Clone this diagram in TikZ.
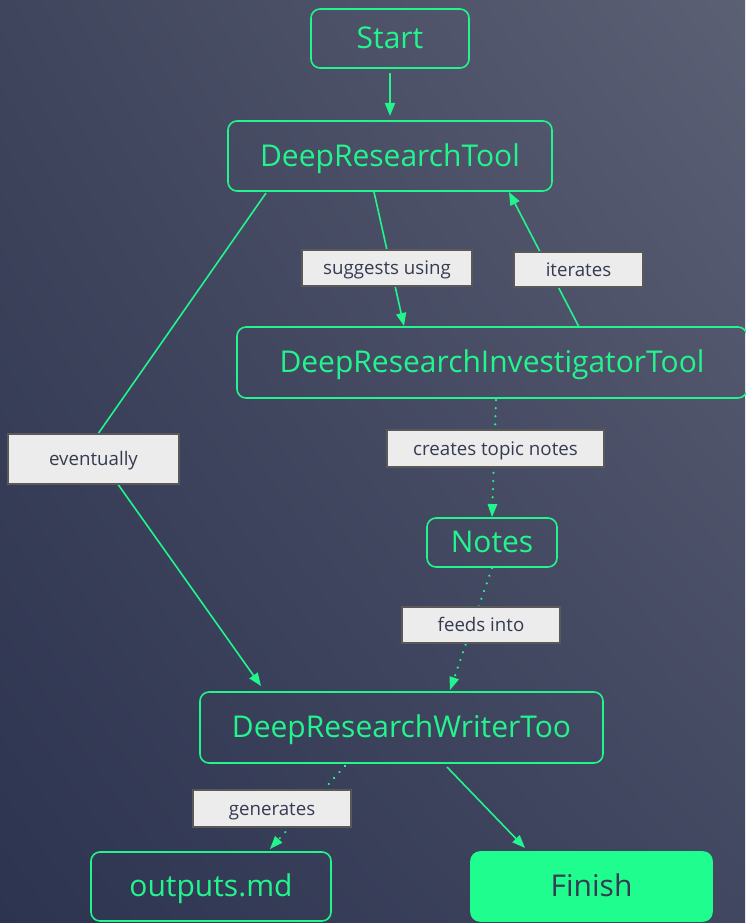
\documentclass[tikz,border=0pt]{standalone}
\usepackage{fontspec}
\setmainfont{Open Sans}
\usetikzlibrary{arrows.meta,shadings}
\definecolor{grn}{HTML}{22F58D}
\definecolor{grnfill}{HTML}{20FD8F}
\definecolor{lblfill}{HTML}{ECECEC}
\definecolor{lbldraw}{HTML}{595959}
\definecolor{lbltext}{HTML}{363B52}
\definecolor{bgll}{HTML}{2D3450}
\definecolor{bgul}{HTML}{3F455C}
\definecolor{bgur}{HTML}{5C6075}
\definecolor{bglr}{HTML}{414760}
\tikzset{
  box/.style={draw=grn, line width=1.6pt, rounded corners=9pt, text=grn, font=\fontsize{30}{33}\selectfont, inner sep=0pt, text height=26pt, text depth=6pt},
  finbox/.style={fill=grnfill, draw=grnfill, line width=1.6pt, rounded corners=9pt, text=lbltext, font=\fontsize{30}{33}\selectfont, inner sep=0pt, text height=26pt, text depth=6pt},
  lbl/.style={fill=lblfill, draw=lbldraw, line width=1.4pt, text=lbltext, font=\fontsize{18.7}{21}\selectfont, inner sep=0pt, text height=17pt, text depth=4pt},
  conn/.style={draw=grn, line width=1.6pt, -{Triangle[length=13pt,width=10pt]}},
  dconn/.style={draw=grn, line width=2.4pt, line cap=round, dash pattern=on 0.1pt off 8pt, -{Triangle[length=13pt,width=10pt,line width=0pt]}},
}
\begin{document}
\begin{tikzpicture}[x=1pt,y=-1pt]
\useasboundingbox (0,0) rectangle (745,923);
\shade[lower left=bgll, upper left=bgul, upper right=bgur, lower right=bglr] (0,923) rectangle (745,0);

\node[box, minimum width=158pt, minimum height=59pt] (start) at (390,38.5) {Start};
\node[box, minimum width=324pt, minimum height=70pt] (drt) at (390,156) {DeepResearchTool};
\node[box, minimum width=510pt, minimum height=71pt] (drit) at (492,362.5) {DeepResearchInvestigatorTool};
\node[box, minimum width=130pt, minimum height=49pt] (notes) at (492,542.5) {Notes};
\node[box, minimum width=403pt, minimum height=71pt] (writer) at (401.5,727.5) {DeepResearchWriterToo};
\node[box, minimum width=240pt, minimum height=69pt] (out) at (211,886.5) {outputs.md};
\node[finbox, minimum width=241pt, minimum height=69pt] (fin) at (591.5,886.5) {Finish};

% edges
\coordinate (s1) at (390,73);
\coordinate (s2) at (390,116);
\draw[conn] (s1) -- (s2);
\coordinate (e1) at (374,192);
\coordinate (e2) at (404,326);
\draw[conn] (e1) -- (e2);
\coordinate (i1) at (579,327);
\coordinate (i2) at (509,192);
\draw[conn] (i1) -- (i2);
\coordinate (v1) at (266,193);
\coordinate (vA) at (84,454);
\coordinate (vB) at (105,466);
\coordinate (v2) at (261,686);
\draw[conn] (v1) -- (vA) -- (vB) -- (v2);
\coordinate (c1) at (496,400);
\coordinate (c2) at (492,517);
\draw[dconn] (c1) -- (c2);
\coordinate (f1) at (492,568);
\coordinate (f2) at (450,690);
\draw[dconn] (f1) -- (f2);
\coordinate (g1) at (345,766);
\coordinate (g2) at (270,849);
\draw[dconn] (g1) -- (g2);
\coordinate (h1) at (447,767);
\coordinate (h2) at (525,848);
\draw[conn] (h1) -- (h2);

% labels
\node[lbl, minimum width=170pt, minimum height=36pt] (l1) at (387,268) {suggests using};
\node[lbl, minimum width=129pt, minimum height=35pt] (l2) at (578.5,269.5) {iterates};
\node[lbl, minimum width=171pt, minimum height=50pt] (l3) at (93.5,459) {eventually};
\node[lbl, minimum width=217pt, minimum height=37pt] (l4) at (495.5,448.5) {creates topic notes};
\node[lbl, minimum width=158pt, minimum height=36pt] (l5) at (481,625) {feeds into};
\node[lbl, minimum width=158pt, minimum height=37pt] (l6) at (272,808.5) {generates};
\end{tikzpicture}
\end{document}
